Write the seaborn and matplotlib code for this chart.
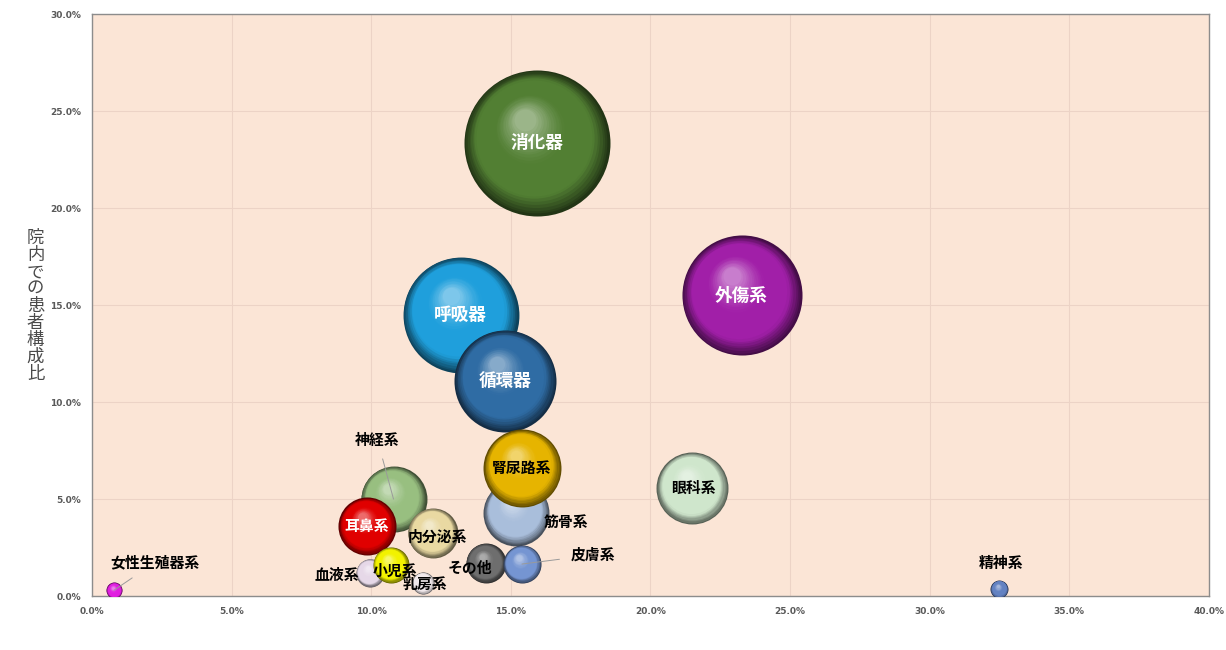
import numpy as np
import pandas as pd
import matplotlib
matplotlib.use("Agg")
import matplotlib.pyplot as plt
import matplotlib.transforms as mtransforms
from matplotlib.colors import to_rgb
import seaborn as sns

# ---------------- data ----------------
categories = ["消化器", "外傷系", "呼吸器", "循環器", "眼科系", "筋骨系", "腎尿路系",
              "神経系", "内分泌系", "耳鼻系", "血液系", "小児系", "乳房系", "その他",
              "皮膚系", "精神系", "女性生殖器系"]
x_share = [15.93, 23.27, 13.20, 14.80, 21.50, 15.20, 15.40,
           10.80, 12.20, 9.85, 9.95, 10.70, 11.85, 14.10,
           15.40, 32.50, 0.79]            # % (x axis)
y_share = [23.35, 15.50, 14.50, 11.10, 5.57, 4.30, 6.60,
           5.00, 3.25, 3.60, 1.20, 1.60, 0.67, 1.70,
           1.65, 0.36, 0.30]              # 院内での患者構成比 (%)
bubble_size = [100.0, 67.6, 63.0, 48.8, 24.3, 20.4, 28.5,
               20.4, 11.7, 15.8, 3.7, 6.1, 2.3, 7.5,
               6.8, 1.5, 1.2]
colors = ["#527f33", "#a11fa8", "#1f9fdc", "#2f6ca4", "#cfe6cc", "#a9bedb", "#e6b400",
          "#98bf80", "#e9d9a2", "#e00000", "#e6d8e8", "#f2f200", "#f1e9ec", "#6e6e6e",
          "#7595d2", "#6382c2", "#e01fe0"]
label_white = [True, True, True, True, False, False, False,
               False, False, True, False, False, False, False,
               False, False, False]
x_ticks = [0, 5, 10, 15, 20, 25, 30, 35, 40]
y_ticks = [0, 5, 10, 15, 20, 25, 30]
y_label = "院内での患者構成比"

# label offsets in points (0,0 = centred on bubble); leader flag
label_dx = [0, 0, 0, 0, 1, 36, 0, -11.5, 3.6, 0, -24, 3, 1.5, -11.5, 51, 1.5, 29.5]
label_dy = [0, 0, 0, 0, 0, -7, 0, 42.5, -3, 0, -1.5, -4, -0.7, -3.6, 6.5, 19, 20]
leader = [False, False, False, False, False, False, False,
          True, False, False, False, False, False, False, True, False, True]

df = pd.DataFrame({"cat": categories, "x": x_share, "y": y_share,
                   "size": bubble_size})

# ---------------- figure ----------------
fig = plt.figure(figsize=(12.26, 6.5), dpi=100)
ax = fig.add_axes([0.075, 0.083, 0.911, 0.895])
ax.set_facecolor("#fbe5d6")
for sp in ax.spines.values():
    sp.set_color("#8c8c8c")
    sp.set_linewidth(1.0)

SMAX = 11050.0  # points^2 for largest bubble
smax_val = max(bubble_size)

# size mapping through seaborn (base layer), later overdrawn with shading
sns.scatterplot(data=df, x="x", y="y", size="size", sizes=(0, SMAX),
                size_norm=(0, smax_val), hue="cat", palette=colors,
                legend=False, linewidth=0, ax=ax, zorder=2)
base_sizes = ax.collections[0].get_sizes()
for coll in list(ax.collections):
    coll.remove()

N = 30
white = np.array([1.0, 1.0, 1.0])
for i, row in df.iterrows():
    base = np.array(to_rgb(colors[i]))
    s_full = float(base_sizes[i]) if len(base_sizes) == len(df) else row["size"] / smax_val * SMAX
    r_pt = np.sqrt(s_full) / 2.0
    dark = base * 0.42
    light = base + (white - base) * 0.42
    z = 3 + i
    for k in range(N):
        t = k / (N - 1)
        f = 1.0 - 0.85 * t
        if t < 0.22:
            c = dark + (base - dark) * (t / 0.22)
        elif t < 0.6:
            c = base
        else:
            c = base + (light - base) * ((t - 0.6) / 0.4) ** 1.3
        dx = -0.16 * t * r_pt
        dy = 0.32 * t * r_pt
        tr = mtransforms.offset_copy(ax.transData, fig=fig, x=dx, y=dy, units="points")
        ax.scatter([row["x"]], [row["y"]], s=s_full * f * f, color=c,
                   linewidths=0, transform=tr, zorder=z)

# labels
for i, row in df.iterrows():
    big = categories[i] in ("消化器", "外傷系", "呼吸器", "循環器")
    fs = 12.7 if big else 10.7
    col = "white" if label_white[i] else "black"
    kw = dict(xy=(row["x"], row["y"]), xytext=(label_dx[i], label_dy[i]),
              textcoords="offset points", ha="center", va="center", fontsize=fs,
              fontweight="bold", color=col,
              family=["Noto Sans CJK JP", "DejaVu Sans"], zorder=40)
    if leader[i]:
        kw["arrowprops"] = dict(arrowstyle="-", color="#9a9a9a", lw=0.7,
                                shrinkA=6, shrinkB=0)
    ax.annotate(categories[i], **kw)

ax.set_xlim(0, 40)
ax.set_ylim(0, 30)
ax.set_xticks(x_ticks)
ax.set_yticks(y_ticks)
ax.set_xticklabels([f"{v:.1f}%" for v in x_ticks])
ax.set_yticklabels([f"{v:.1f}%" for v in y_ticks])
ax.tick_params(length=0, labelsize=6.5, labelcolor="#595959", pad=8)
for lab in ax.get_xticklabels() + ax.get_yticklabels():
    lab.set_fontweight("bold")
ax.grid(True, color="#ecd3c6", linewidth=0.8)
ax.set_axisbelow(True)
ax.set_xlabel("")
ax.set_ylabel("")

fig.text(0.029, 0.529, "\n".join(y_label), ha="center", va="center",
         fontsize=12.5, color="#4a4a4a", linespacing=0.93,
         family=["Noto Sans CJK JP", "DejaVu Sans"])

fig.savefig("out.png", dpi=100, facecolor="white")
